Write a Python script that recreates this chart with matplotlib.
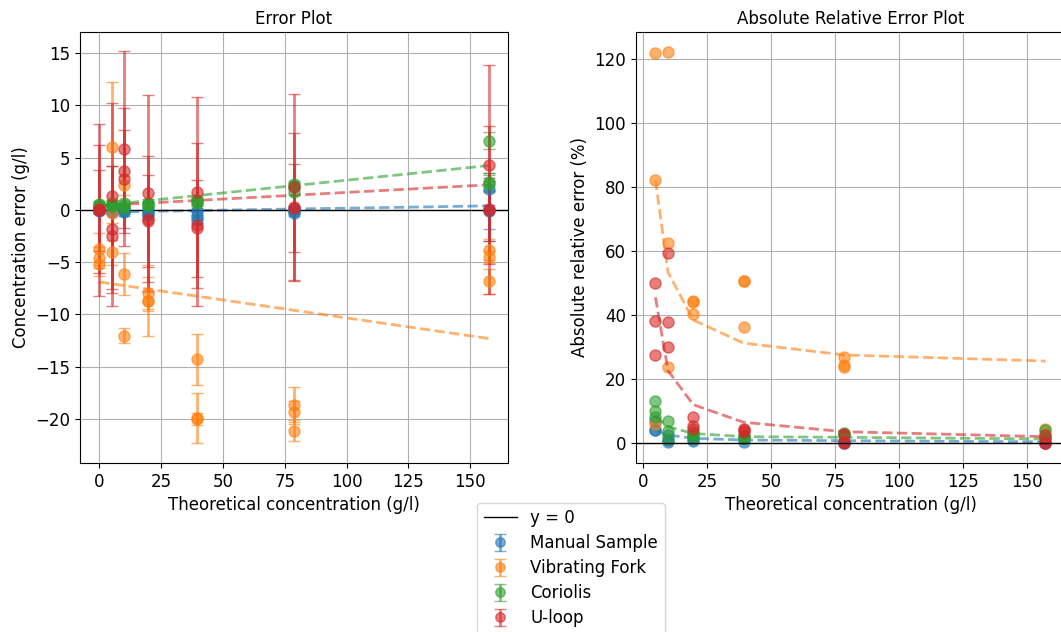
"""
Error and relative error plots for the four density measurement methods.
"""

import numpy as np
import matplotlib
matplotlib.use("Agg")
import matplotlib.pyplot as plt
from matplotlib.ticker import MultipleLocator

plt.rcParams["font.size"] = 12

# Theoretical concentrations (g/l), three replicates each
levels = [0, 4.92, 9.84, 19.675, 39.35, 78.7, 157.4]
conc = np.repeat(levels, 3)

# Measured - theoretical (g/l) and standard deviation per replicate
manual_err = [0.0, -0.1, 0.1, -0.2, 0.35, -0.2, -0.25, -0.1, 0.05,
              -0.3, -0.45, -0.15, -0.15, -0.55, -0.95, -0.3, -0.1, 0.05,
              1.98, -0.1, 0.0]
manual_sd = [0.3, 0.3, 0.3, 0.2, 0.2, 0.2, 0.3, 0.3, 0.3,
             0.3, 0.3, 0.3, 0.3, 0.3, 0.3, 0.3, 0.3, 0.3,
             1.5, 2.9, 1.8]

fork_err = [-3.75, -5.15, -4.6, 6.0, -0.3, -4.05, 2.36, -6.15, -12.03,
            -7.95, -8.68, -8.75, -14.3, -19.9, -20.0, -18.7, -19.3, -21.1,
            -3.8, -4.5, -6.85]
fork_sd = [1.5, 1.2, 1.0, 6.2, 1.0, 1.2, 0.9, 2.0, 0.7,
           1.5, 3.4, 0.9, 2.4, 2.4, 0.6, 1.8, 1.0, 1.0,
           1.0, 0.6, 1.2]

coriolis_err = [0.57, 0.3, 0.45, 0.645, 0.5, 0.4, 0.68, 0.39, 0.13,
                0.7, 0.55, 0.35, 0.8, 0.95, 0.65, 2.5, 1.75, 2.3,
                6.62, 2.7, 2.5]
coriolis_sd = [0.3] * 18 + [0.8, 0.8, 0.8]

uloop_err = [0.0, 0.05, -0.05, 1.35, -1.88, -2.47, 5.85, 3.74, 2.97,
             1.6, -0.9, -1.08, 1.66, -1.43, -1.78, 2.2, 0.25, 0.2,
             4.3, 0.0, 0.05]
uloop_sd = [8.2, 6.1, 3.9, 8.9, 6.1, 6.7, 9.35, 6.0, 4.7,
            9.4, 6.0, 4.4, 9.1, 7.8, 4.6, 8.9, 7.05, 4.2,
            9.5, 8.0, 3.0]

# Linear trend of the error (evaluated at 0 and max concentration)
trend_x = [0, 157.4]
manual_trend = [-0.22, 0.38]
fork_trend = [-6.9, -12.3]
coriolis_trend = [0.4, 4.23]
uloop_trend = [0.4, 2.39]

# Fitted absolute relative error (%) at the non-zero concentrations
rel_x = levels[1:]
manual_rel_fit = [4.0, 2.6, 1.6, 1.05, 0.85, 0.5]
fork_rel_fit = [82.2, 53.4, 38.5, 31.3, 27.6, 25.7]
coriolis_rel_fit = [8.4, 5.2, 3.1, 2.1, 1.9, 1.4]
uloop_rel_fit = [45.6, 22.7, 12.1, 6.6, 3.65, 2.1]

names = ["Manual Sample", "Vibrating Fork", "Coriolis", "U-loop"]
colors = ["C0", "C1", "C2", "C3"]
errs = [manual_err, fork_err, coriolis_err, uloop_err]
sds = [manual_sd, fork_sd, coriolis_sd, uloop_sd]
trends = [manual_trend, fork_trend, coriolis_trend, uloop_trend]
rel_fits = [manual_rel_fit, fork_rel_fit, coriolis_rel_fit, uloop_rel_fit]

fig = plt.figure(figsize=(10.61, 6.32), dpi=100)
ax1 = fig.add_axes([0.0754, 0.2674, 0.4034, 0.682])
ax2 = fig.add_axes([0.5994, 0.2674, 0.4043, 0.682])

# Left: absolute error with error bars
for name, color, err, sd, trend in zip(names, colors, errs, sds, trends):
    ax1.errorbar(conc, err, yerr=sd, fmt="o", color=color, alpha=0.6,
                 markersize=8, capsize=4, elinewidth=2, label=name)
    ax1.plot(trend_x, trend, "--", color=color, alpha=0.6, linewidth=2)
ax1.axhline(0, color="black", linewidth=1, label="y = 0")
ax1.set_title("Error Plot", fontsize=12)
ax1.set_xlabel("Theoretical concentration (g/l)")
ax1.set_ylabel("Concentration error (g/l)")
ax1.grid(True)
ax1.set_ylim(-24.2, 17.0)
ax1.xaxis.set_major_locator(MultipleLocator(25))

# Right: absolute relative error in percent
mask = conc > 0
for name, color, err, fit in zip(names, colors, errs, rel_fits):
    err = np.asarray(err)
    rel = np.abs(err[mask]) / conc[mask] * 100
    ax2.plot(conc[mask], rel, "o", color=color, alpha=0.6, markersize=8)
    ax2.plot(rel_x, fit, "--", color=color, alpha=0.6, linewidth=2)
ax2.axhline(0, color="black", linewidth=1)
ax2.set_title("Absolute Relative Error Plot", fontsize=12)
ax2.set_xlabel("Theoretical concentration (g/l)")
ax2.set_ylabel("Absolute relative error (%)")
ax2.grid(True)
ax2.xaxis.set_major_locator(MultipleLocator(25))

handles, labels = ax1.get_legend_handles_labels()
fig.legend(handles, labels, loc="upper center",
           bbox_to_anchor=(0.538, 0.218), fontsize=12, labelspacing=0.42,
           markerscale=0.85)

fig.savefig("out.png", dpi=100)
